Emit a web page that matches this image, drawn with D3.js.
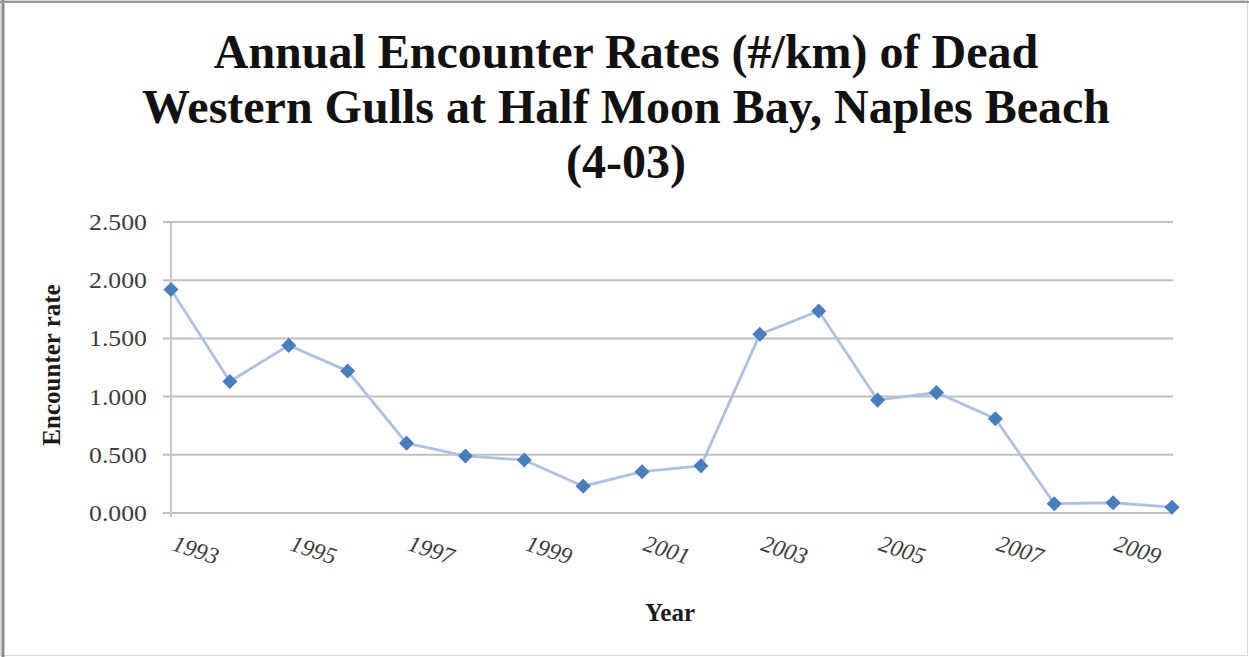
<!DOCTYPE html>
<html><head><meta charset="utf-8">
<script src="https://cdn.jsdelivr.net/npm/d3@7"></script>
<style>
html,body{margin:0;padding:0;background:#fff;}
svg{display:block;}
</style></head>
<body>
<svg id="chart" width="1249" height="657"></svg>
<script>
const years = [1993,1994,1995,1996,1997,1998,1999,2000,2001,2002,2003,2004,2005,2006,2007,2008,2009,2010];
const rates = [1.92,1.13,1.44,1.22,0.60,0.49,0.455,0.23,0.355,0.405,1.535,1.735,0.97,1.035,0.81,0.08,0.088,0.05];
const yTicks = [0,0.5,1,1.5,2,2.5];
const xTickYears = [1993,1995,1997,1999,2001,2003,2005,2007,2009];
const titleLines = ["Annual Encounter Rates (#/km) of Dead","Western Gulls at Half Moon Bay, Naples Beach","(4-03)"];

const svg = d3.select("#chart");
const serif = "'Liberation Serif','Times New Roman',serif";

// outer frame
svg.append("rect").attr("x",0.5).attr("y",0.5).attr("width",1247).attr("height",655)
  .attr("fill","#fff").attr("stroke","#d8d8d8").attr("stroke-width",1);
svg.append("line").attr("x1",3).attr("x2",3).attr("y1",0).attr("y2",657).attr("stroke","#8c8c8c").attr("stroke-width",3);
svg.append("line").attr("x1",0).attr("x2",1249).attr("y1",2).attr("y2",2).attr("stroke","#9a9a9a").attr("stroke-width",2);

const x = d3.scaleLinear().domain([1993,2010]).range([171,1172]);
const y = d3.scaleLinear().domain([0,2.5]).range([513,222]);

// gridlines
svg.append("g").selectAll("line").data(yTicks).join("line")
  .attr("x1",163).attr("x2",1173)
  .attr("y1",d=>y(d)).attr("y2",d=>y(d))
  .attr("stroke","#c0c0c0").attr("stroke-width",2);

// y axis line
svg.append("line").attr("x1",x(1993)).attr("x2",x(1993)).attr("y1",y(2.5)).attr("y2",y(0)+4)
  .attr("stroke","#c8c8c8").attr("stroke-width",2);

// y tick labels
svg.append("g").selectAll("text").data(yTicks).join("text")
  .attr("transform",d=>`translate(147,${y(d)}) scale(1.12,1)`).attr("dy","0.35em")
  .attr("text-anchor","end")
  .attr("font-family",serif).attr("font-size",23).attr("fill","#3c3c3c")
  .text(d=>d3.format(".3f")(d));

// x tick labels
svg.append("g").selectAll("text").data(xTickYears).join("text")
  .attr("transform",d=>`translate(${x(d)},${550}) rotate(18)`)
  .attr("font-family",serif).attr("font-style","italic").attr("font-size",23.5).attr("fill","#3c3c3c")
  .text(d=>d);

// line
const line = d3.line().x((d,i)=>x(years[i])).y(d=>y(d));
svg.append("path").datum(rates).attr("d",line)
  .attr("fill","none").attr("stroke","#adc1e2").attr("stroke-width",2.8);

// markers
svg.append("g").selectAll("path").data(rates).join("path")
  .attr("d",d3.symbol().type(d3.symbolDiamond2).size(145))
  .attr("transform",(d,i)=>`translate(${x(years[i])},${y(d)})`)
  .attr("fill","#4a7dbd");

// title
svg.append("g").selectAll("text").data(titleLines).join("text")
  .attr("x",626).attr("y",(d,i)=>68+i*55)
  .attr("text-anchor","middle")
  .attr("font-family",serif).attr("font-weight","bold").attr("font-size",48).attr("fill","#111")
  .text(d=>d);

// axis titles
svg.append("text").attr("transform","translate(60,365) rotate(-90)")
  .attr("text-anchor","middle").attr("font-family",serif).attr("font-weight","bold")
  .attr("font-size",25).attr("fill","#1a1a1a").text("Encounter rate");
svg.append("text").attr("x",670).attr("y",621)
  .attr("text-anchor","middle").attr("font-family",serif).attr("font-weight","bold")
  .attr("font-size",25).attr("fill","#1a1a1a").text("Year");
</script>
</body></html>
